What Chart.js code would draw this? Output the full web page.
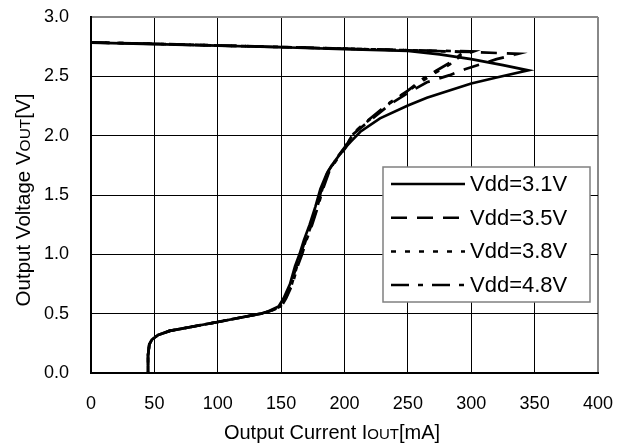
<!DOCTYPE html>
<html>
<head>
<meta charset="utf-8">
<script src="https://cdn.jsdelivr.net/npm/chart.js@4.4.1/dist/chart.umd.min.js"></script>
<style>
body{margin:0;background:#fff}
#wrap{width:628px;height:445px}
</style>
</head>
<body>
<div id="wrap"><canvas id="chart"></canvas></div>
<script>
// Iout [mA] / Vout [V], one pair of arrays per Vdd
const labels=['Vdd=3.1V','Vdd=3.5V','Vdd=3.8V','Vdd=4.8V']
const iout31=[0,50,100,150,200,250,275,300,325,345,320,300,284,265,250,228,212.5,205,199,192,186,181,177,172.5,168,164.5,161,157,152,148,140,134,100,62,53,48,46,45,45]
const vout31=[2.784,2.772,2.758,2.745,2.73,2.714,2.685,2.645,2.595,2.55,2.49,2.44,2.385,2.32,2.255,2.146,2.033,1.95,1.88,1.78,1.68,1.55,1.4,1.25,1.12,1.0,0.9,0.75,0.63,0.56,0.52,0.5,0.43,0.355,0.32,0.28,0.24,0.15,0]
const iout35=[0,50,100,150,200,250,300,337,320,307,295,283,265,250,236,218,207,200,193,187,182,178,173.5,169,165.5,162,158,153,149,141,134,100,62,53,48,46,45,45]
const vout35=[2.786,2.774,2.76,2.747,2.733,2.72,2.705,2.69,2.645,2.6,2.56,2.51,2.45,2.36,2.265,2.11,2.015,1.9,1.8,1.7,1.55,1.4,1.25,1.12,1.0,0.9,0.75,0.63,0.56,0.52,0.5,0.43,0.355,0.32,0.28,0.24,0.15,0]
const iout38=[0,50,100,150,200,250,295,291,283,270,260,250,236,218,207,200.5,193.5,187.5,182.5,178.5,174,169.5,166,162.5,158.5,153.5,149.5,141,134,100,62,53,48,46,45,45]
const vout38=[2.786,2.774,2.76,2.747,2.733,2.72,2.705,2.68,2.6,2.52,2.45,2.375,2.275,2.12,2.02,1.9,1.8,1.7,1.55,1.4,1.25,1.12,1.0,0.9,0.75,0.63,0.56,0.52,0.5,0.43,0.355,0.32,0.28,0.24,0.15,0]
const iout48=[0,50,100,150,200,250,302,292,284,272,262,250,236,218,207,201,194,188,183,179,174.5,170,166.5,163,159,154,150,141,134,100,62,53,48,46,45,45]
const vout48=[2.786,2.774,2.76,2.747,2.733,2.72,2.71,2.67,2.62,2.545,2.48,2.38,2.28,2.125,2.022,1.9,1.8,1.7,1.55,1.4,1.25,1.12,1.0,0.9,0.75,0.63,0.56,0.52,0.5,0.43,0.355,0.32,0.28,0.24,0.15,0]
const dashes=[[],[16,10],[5,9],[18,9,5,9]]

function pts(xs,ys){
    let a=[]
    for (let i=0;i<xs.length;i++) a.push({x:xs[i],y:ys[i]})
    return a
}
const series=[pts(iout31,vout31),pts(iout35,vout35),pts(iout38,vout38),pts(iout48,vout48)]
let datasets=[]
for (let i=0;i<series.length;i++){
    datasets.push({
        label:labels[i],
        data:series[i],
        showLine:true,
        borderColor:'#000',
        borderWidth:2.7,
        borderDash:dashes[i],
        pointRadius:0,
        tension:0
    })
}

const font='"Liberation Sans", Arial, sans-serif'

// axis titles with the small "OUT" and the legend box inside the plot
const extras={
    id:'extras',
    afterDatasetsDraw(chart){
        const ctx=chart.ctx
        // legend
        ctx.save()
        ctx.fillStyle='#fff'
        ctx.fillRect(383,167,207,135)
        ctx.strokeStyle='#808080'
        ctx.lineWidth=1.5
        ctx.strokeRect(383,167,207,135)
        ctx.font='22px '+font
        ctx.textBaseline='middle'
        for (let i=0;i<labels.length;i++){
            const y=184+i*33.7
            ctx.strokeStyle='#000'
            ctx.lineWidth=2.5
            ctx.setLineDash(dashes[i])
            ctx.beginPath()
            ctx.moveTo(391,y)
            ctx.lineTo(465,y)
            ctx.stroke()
            ctx.setLineDash([])
            ctx.fillStyle='#000'
            ctx.fillText(labels[i],470,y+1)
        }
        ctx.restore()
    },
    afterDraw(chart){
        const ctx=chart.ctx
        function parts(list){
            let w=0
            for (const p of list){ctx.font=p[1]+'px '+font;w+=ctx.measureText(p[0]).width}
            return w
        }
        function draw(list,cx,cy,rot){
            ctx.save()
            ctx.translate(cx,cy)
            ctx.rotate(rot)
            ctx.fillStyle='#000'
            ctx.textBaseline='alphabetic'
            let x=-parts(list)/2
            for (const p of list){
                ctx.font=p[1]+'px '+font
                ctx.fillText(p[0],x,7)
                x+=ctx.measureText(p[0]).width
            }
            ctx.restore()
        }
        draw([['Output Current I',20],['OUT',15],['[mA]',20]],332,432,0)
        draw([['Output Voltage V',20.5],['OUT',15.5],['[V]',20.5]],23,200,-Math.PI/2)
    }
}

new Chart(document.getElementById('chart'),{
    type:'scatter',
    data:{datasets:datasets},
    plugins:[extras],
    options:{
        responsive:true,
        maintainAspectRatio:false,
        animation:false,
        layout:{padding:{left:0,top:17,right:30,bottom:0}},
        plugins:{legend:{display:false},tooltip:{enabled:false}},
        scales:{
            x:{
                type:'linear',min:0,max:400,
                afterFit(s){s.height=72;s.paddingLeft=0;s.paddingRight=0},
                ticks:{stepSize:50,padding:20,color:'#000',font:{family:font,size:18}},
                grid:{
                    drawTicks:false,
                    color:c=>c.tick&&c.tick.value==400?'#888':'#000',
                    lineWidth:c=>c.tick&&c.tick.value==400?2:1
                },
                border:{color:'#000',width:2}
            },
            y:{
                type:'linear',min:0,max:3,
                afterFit(s){s.width=91;s.paddingTop=0;s.paddingBottom=0},
                ticks:{stepSize:0.5,padding:22,color:'#000',font:{family:font,size:18},callback:v=>v.toFixed(1)},
                grid:{
                    drawTicks:false,
                    color:c=>c.tick&&c.tick.value==3?'#888':'#000',
                    lineWidth:c=>c.tick&&c.tick.value==3?2:1
                },
                border:{color:'#000',width:2}
            }
        }
    }
})
</script>
</body>
</html>
